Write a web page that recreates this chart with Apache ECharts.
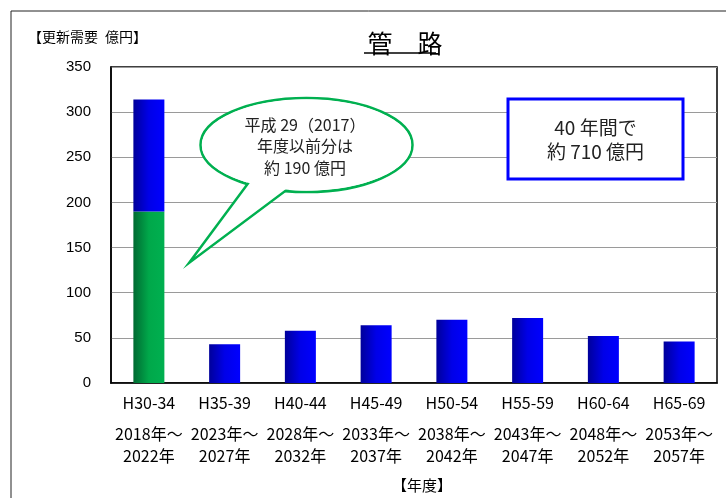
<!DOCTYPE html>
<html>
<head>
<meta charset="utf-8">
<script src="https://cdn.jsdelivr.net/npm/echarts@6/dist/echarts.min.js"></script>
<style>
  html, body { margin: 0; padding: 0; background: #fff; }
  #main { width: 726px; height: 498px; }
</style>
</head>
<body>
<div id="main"></div>
<script>
// カテゴリ（年度）
const periods = ['H30-34', 'H35-39', 'H40-44', 'H45-49', 'H50-54', 'H55-59', 'H60-64', 'H65-69'];
const yearsFrom = ['2018年～', '2023年～', '2028年～', '2033年～', '2038年～', '2043年～', '2048年～', '2053年～'];
const yearsTo = ['2022年', '2027年', '2032年', '2037年', '2042年', '2047年', '2052年', '2057年'];

// 更新需要（億円）
const before2017 = [190, 0, 0, 0, 0, 0, 0, 0]; // 平成29年度以前分
const renewal = [124, 43, 58, 64, 70, 72, 52, 46];

const yTicks = { min: 0, max: 350, interval: 50 };

const FONT = '"Liberation Sans", "Noto Sans CJK JP", sans-serif';
const JP = '"Noto Sans CJK JP", sans-serif';

const chart = echarts.init(document.getElementById('main'));

const blueGrad = new echarts.graphic.LinearGradient(0, 0, 1, 0, [
  { offset: 0, color: '#00009a' },
  { offset: 0.5, color: '#0000e8' },
  { offset: 1, color: '#0000ff' }
]);
const greenGrad = new echarts.graphic.LinearGradient(0, 0, 1, 0, [
  { offset: 0, color: '#006a32' },
  { offset: 0.5, color: '#00a84a' },
  { offset: 1, color: '#00b050' }
]);

chart.setOption({
  animation: false,
  title: {
    text: '管\u3000路',
    left: 400,
    top: 26,
    textAlign: 'center',
    textStyle: { fontFamily: JP, fontSize: 25, fontWeight: 'normal', color: '#000' }
  },
  grid: {
    left: 111, right: 9, top: 67, bottom: 115,
    show: true, borderColor: '#000', borderWidth: 1.5
  },
  xAxis: {
    type: 'category',
    data: periods,
    axisLine: { lineStyle: { color: '#000', width: 1.5 } },
    axisTick: { show: false },
    axisLabel: {
      margin: 0,
      interval: 0,
      formatter: function (v, i) {
        return '{a|' + v + '}\n{b|' + yearsFrom[i] + '}\n{b|' + yearsTo[i] + '}';
      },
      rich: {
        a: { fontFamily: JP, fontSize: 16, color: '#000', lineHeight: 40 },
        b: { fontFamily: JP, fontSize: 16, color: '#000', lineHeight: 22 }
      }
    }
  },
  yAxis: {
    type: 'value',
    min: yTicks.min, max: yTicks.max, interval: yTicks.interval,
    axisLine: { show: true, lineStyle: { color: '#000', width: 1.5 } },
    axisTick: { show: false },
    splitLine: { lineStyle: { color: '#9a9a9a', width: 1 } },
    axisLabel: { fontFamily: FONT, fontSize: 15, color: '#000', margin: 20 }
  },
  series: [
    {
      name: '平成29年度以前分',
      type: 'bar',
      stack: 'total',
      barWidth: 31,
      data: before2017,
      itemStyle: { color: greenGrad }
    },
    {
      name: '更新需要',
      type: 'bar',
      stack: 'total',
      barWidth: 31,
      data: renewal,
      itemStyle: { color: blueGrad }
    }
  ],
  graphic: [
    // 外枠
    { type: 'line', shape: { x1: 11, y1: 11, x2: 726, y2: 11 }, style: { stroke: '#222', lineWidth: 1 }, z: 100 },
    { type: 'line', shape: { x1: 11, y1: 11, x2: 11, y2: 498 }, style: { stroke: '#222', lineWidth: 1 }, z: 100 },
    // 単位
    { type: 'text', x: 28, y: 37, style: { text: '【更新需要\u2002億円】', fontFamily: JP, fontSize: 14, fill: '#000', verticalAlign: 'middle' }, z: 100 },
    // タイトル下線
    { type: 'line', shape: { x1: 364, y1: 53, x2: 436, y2: 53 }, style: { stroke: '#000', lineWidth: 1.5 }, z: 100 },
    // 吹き出し
    { type: 'ellipse', shape: { cx: 306.5, cy: 145, rx: 106, ry: 47 }, style: { fill: '#fff', stroke: '#00b050', lineWidth: 2.5 }, z: 100 },
    { type: 'polygon', shape: { points: [[189, 263], [252, 178], [296, 183]] }, style: { fill: '#fff', stroke: '#00b050', lineWidth: 2.5, lineJoin: 'miter' }, z: 101 },
    { type: 'ellipse', shape: { cx: 306.5, cy: 145, rx: 104.5, ry: 45.5 }, style: { fill: '#fff' }, z: 102 },
    {
      type: 'text', x: 305, y: 146, z: 103,
      style: {
        text: '平成 29（2017）\n年度以前分は\n約 190 億円',
        fontFamily: JP, fontSize: 16, lineHeight: 21.5, fill: '#222',
        align: 'center', verticalAlign: 'middle'
      }
    },
    // 合計ボックス
    { type: 'rect', shape: { x: 508, y: 99, width: 175, height: 80 }, style: { fill: '#fff', stroke: '#0000ff', lineWidth: 3 }, z: 100 },
    {
      type: 'text', x: 595.5, y: 140, z: 101,
      style: {
        text: '40 年間で\n約 710 億円',
        fontFamily: JP, fontSize: 19, lineHeight: 24, fill: '#222',
        align: 'center', verticalAlign: 'middle'
      }
    },
    // 軸名
    { type: 'text', x: 422, y: 485, z: 100, style: { text: '【年度】', fontFamily: JP, fontSize: 15, fill: '#000', align: 'center', verticalAlign: 'middle' } }
  ]
});
</script>
</body>
</html>
